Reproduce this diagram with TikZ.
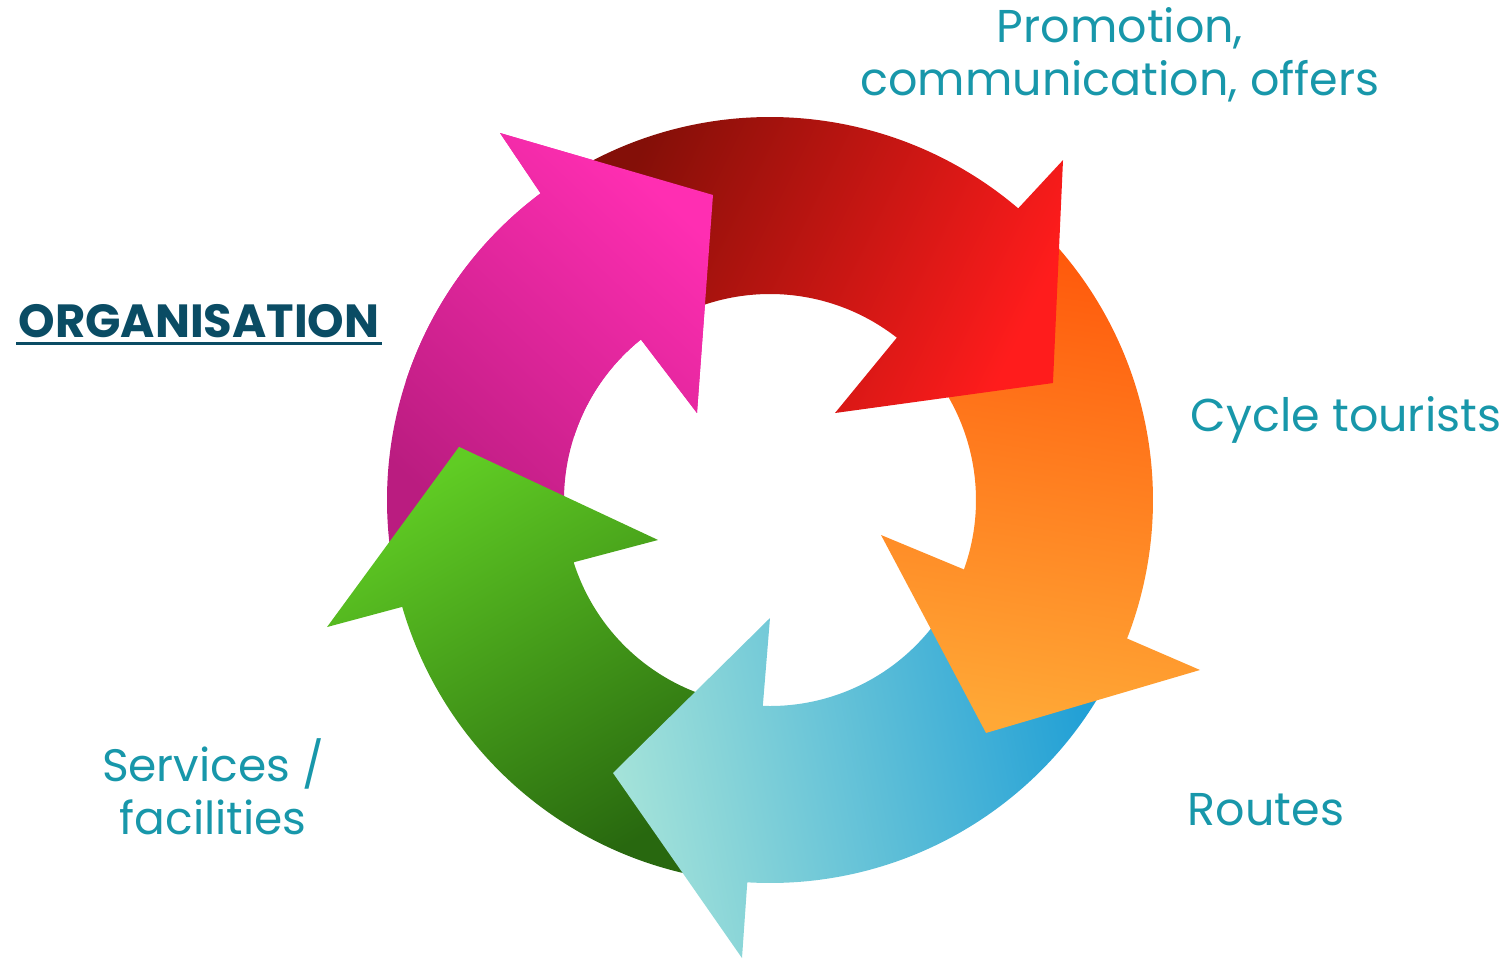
\documentclass[tikz,border=0pt]{standalone}
\usepackage{fontspec}
\setmainfont{Poppins}
\definecolor{redA}{HTML}{840F08}
\definecolor{redB}{HTML}{FF1C1C}
\definecolor{orA}{HTML}{FF5A0C}
\definecolor{orB}{HTML}{FFA836}
\definecolor{blA}{HTML}{22A0D6}
\definecolor{blB}{HTML}{A3E2D9}
\definecolor{grA}{HTML}{60CC24}
\definecolor{grB}{HTML}{28680F}
\definecolor{mgA}{HTML}{FF2EB2}
\definecolor{mgB}{HTML}{BA1C80}
\definecolor{txtcol}{HTML}{1897AA}
\definecolor{orgcol}{HTML}{0A4C64}
% #1 style, #2 tail angle, #3 outer base angle, #4 inner base angle,
% #5 outer barb, #6 tip, #7 inner barb
\newcommand\cyclearrow[7]{%
  \path[#1] (#2:383) arc[start angle=#2, end angle=#3, radius=383]
    -- (#5) -- (#6) -- (#7) -- (#4:206)
    arc[start angle=#4, end angle=#2, radius=206] -- cycle;}
\begin{document}
\begin{tikzpicture}[x=1pt,y=1pt,
  redarrow/.style={top color=redB, bottom color=redA, shading angle=-116},
  orangearrow/.style={top color=orB, bottom color=orA, shading angle=171},
  bluearrow/.style={top color=blB, bottom color=blA, shading angle=101},
  greenarrow/.style={top color=grB, bottom color=grA, shading angle=-150},
  magentaarrow/.style={top color=mgA, bottom color=mgB, shading angle=-43},
  lbl/.style={text=txtcol, inner sep=0pt, align=center, font=\fontsize{46}{53}\selectfont},
  orglbl/.style={text=orgcol, inner sep=0pt, font=\fontsize{46.5}{52}\selectfont\bfseries}]
\useasboundingbox (0,0) rectangle (1509,-961);
\begin{scope}[shift={(770,-500)}]
  \cyclearrow{magentaarrow}{188}{126.8}{128.8}{126.34:455.6}{100.59:310.3}{130:113.6}
  \cyclearrow{greenarrow}{258.6}{196.2}{197.6}{196:460.8}{170.3:315.5}{199.65:118.9}
  \cyclearrow{bluearrow}{-29}{-93.4}{-92}{-93.5:458.9}{-119.9:314.9}{-90:118}
  \cyclearrow{orangearrow}{41.5}{-21.2}{-19.7}{-21.57:462.4}{-47.16:317.7}{-17.5:116.4}
  \cyclearrow{redarrow}{118}{49.6}{52}{49.24:448.8}{22.46:306.2}{53.23:108.6}
  \begin{scope}
    \clip (0,0) -- (88:650) arc[start angle=88, end angle=162, radius=650] -- cycle;
    \cyclearrow{magentaarrow}{188}{126.8}{128.8}{126.34:455.6}{100.59:310.3}{130:113.6}
  \end{scope}
\end{scope}
\node[lbl] (promo) at (1120,-55) {Promotion,\\communication, offers};
\node[lbl] (cycle) at (1346,-420) {Cycle tourists};
\node[lbl] (routes) at (1266,-810) {Routes};
\node[lbl, font=\fontsize{45.5}{53}\selectfont] (services) at (213,-787) {Services /\\facilities};
\node[orglbl] (organisation) at (199,-321) {ORGANISATION};
\draw[orgcol, line width=3pt] ([xshift=-2pt,yshift=-6pt]organisation.base west) -- ([xshift=2pt,yshift=-6pt]organisation.base east);
\end{tikzpicture}
\end{document}
